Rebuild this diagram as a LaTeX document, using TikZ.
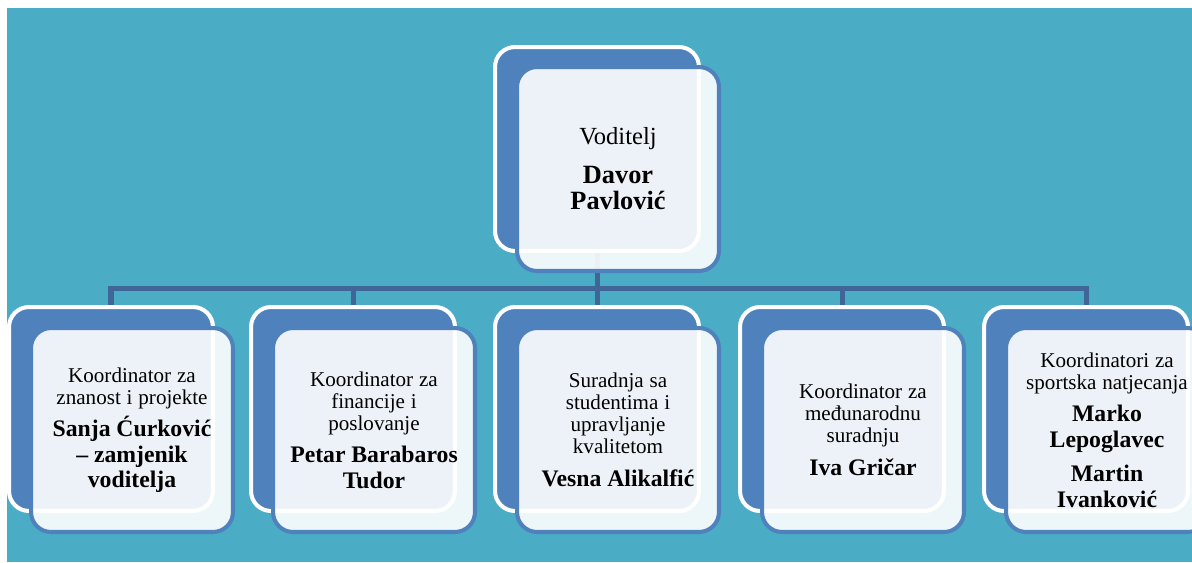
\documentclass[tikz,border=0pt]{standalone}
\usepackage{fontspec}
\setmainfont{Liberation Serif}
\usepackage{xcolor}
\usetikzlibrary{positioning}
\definecolor{bgteal}{RGB}{75,172,198}
\definecolor{boxblue}{RGB}{79,129,189}
\definecolor{linkblue}{RGB}{64,102,152}
\newcommand{\rolefont}{\fontsize{12}{12.5}\selectfont}
\newcommand{\namefont}{\fontsize{13.5}{14.5}\selectfont\bfseries}

\begin{document}
\begin{tikzpicture}[x=0.02cm, y=-0.02cm,
    backbox/.style={draw=white, line width=2.3pt, fill=boxblue, rounded corners=0.4cm,
        minimum width=4.08cm, minimum height=4.08cm, inner sep=0pt, anchor=north west},
    frontbox/.style={draw=boxblue, line width=2.3pt, fill=white, fill opacity=0.9, text opacity=1,
        rounded corners=0.4cm, minimum width=4.04cm, minimum height=4.08cm, inner sep=0pt,
        text width=3.8cm, align=center, anchor=north west},
    link/.style={draw=linkblue, line width=2.85pt}]

        \useasboundingbox (0,0) rectangle (1192,562);
        \fill[white] (0,0) rectangle (1192,562);
        \fill[bgteal] (7,8) rectangle (1192,562);

        % Back boxes
        \node[backbox] (head) at (493,45) {};
        \node[backbox] (c1) at (7,305) {};
        \node[backbox] (c2) at (249,305) {};
        \node[backbox] (c3) at (493,305) {};
        \node[backbox] (c4) at (738,305) {};
        \node[backbox] (c5) at (982,305) {};

        % Connectors
        \coordinate (bar) at (0,288);
        \draw[link] (head.south) -- (head.south |- bar);
        \draw[link] (c1.north) |- (c5.north |- bar) -- (c5.north);
        \draw[link] (c2.north) -- (c2.north |- bar);
        \draw[link] (c3.north) -- (c3.north |- bar);
        \draw[link] (c4.north) -- (c4.north |- bar);

        % Front boxes
        \node[frontbox] (headtext) at (515,65) {{\fontsize{14}{15}\selectfont Voditelj\par}\vspace{7pt}%
            {\fontsize{15}{15}\selectfont\bfseries Davor\\ Pavlović\par}};
        \node[frontbox] (c1text) at (29,326) {{\rolefont Koordinator za\\ znanost i projekte\par}\vspace{4pt}%
            {\namefont Sanja Ćurković\\ – zamjenik\\ voditelja\par}};
        \node[frontbox] (c2text) at (271,326) {{\rolefont Koordinator za\\ financije i\\ poslovanje\par}\vspace{4pt}%
            {\namefont Petar Barabaros\\ Tudor\par}};
        \node[frontbox] (c3text) at (515,326) {{\rolefont Suradnja sa\\ studentima i\\ upravljanje\\ kvalitetom\par}\vspace{4pt}%
            {\namefont Vesna Alikalfić\par}};
        \node[frontbox] (c4text) at (760,326) {{\rolefont Koordinator za\\ međunarodnu\\ suradnju\par}\vspace{4pt}%
            {\namefont Iva Gričar\par}};
        \node[frontbox] (c5text) at (1004,326) {{\rolefont Koordinatori za\\ sportska natjecanja\par}\vspace{4pt}%
            {\namefont Marko\\ Lepoglavec\par}\vspace{5pt}{\namefont Martin\\ Ivanković\par}};

    \end{tikzpicture}
\end{document}
